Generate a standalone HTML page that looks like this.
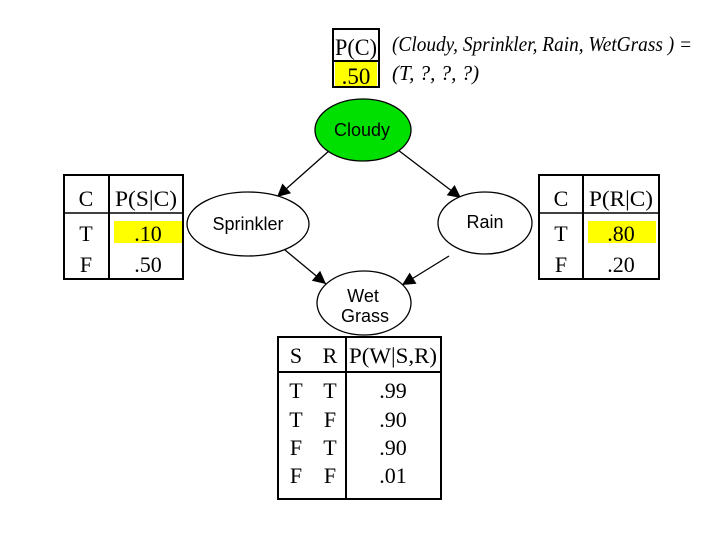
<!DOCTYPE html>
<html><head><style>body{margin:0;background:#fff}svg{display:block}</style></head><body>
<svg width="720" height="540" xmlns="http://www.w3.org/2000/svg" font-family="Liberation Serif, serif">
<defs>
<marker id="b" viewBox="0 0 10 10" markerWidth="18" markerHeight="13" refX="10" refY="5" orient="auto" markerUnits="userSpaceOnUse"><path d="M0,0 L10,5 L0,10 z" fill="#000"/></marker></defs>
<!-- P(C) -->
<rect x="335" y="62" width="42" height="24" fill="#ffff00"/>
<rect x="333" y="29" width="46" height="58" fill="none" stroke="#000" stroke-width="2"/>
<line x1="333" y1="61" x2="379" y2="61" stroke="#000" stroke-width="2"/>
<text x="356" y="55" font-size="23" text-anchor="middle" textLength="42" lengthAdjust="spacingAndGlyphs">P(C)</text>
<text x="356" y="84" font-size="23" text-anchor="middle">.50</text>
<text x="392" y="51" font-size="21" font-style="italic" textLength="300" lengthAdjust="spacingAndGlyphs">(Cloudy, Sprinkler, Rain, WetGrass ) =</text>
<text x="392" y="80" font-size="21" font-style="italic">(T, ?, ?, ?)</text>
<!-- arrows -->
<g stroke="#000" stroke-width="1.3">
<line x1="330" y1="150" x2="277" y2="197" marker-end="url(#b)"/>
<line x1="398" y1="150" x2="461" y2="198" marker-end="url(#b)"/>
<line x1="285" y1="250" x2="326" y2="284" marker-end="url(#b)"/>
<line x1="449" y1="256" x2="402" y2="285" marker-end="url(#b)"/>
</g>
<!-- nodes -->
<g font-family="Liberation Sans, sans-serif" font-size="18" text-anchor="middle">
<ellipse cx="363" cy="130" rx="48" ry="31" fill="#00e000" stroke="#000" stroke-width="1.3"/>
<text x="362" y="136">Cloudy</text>
<ellipse cx="248" cy="224" rx="61" ry="32" fill="#fff" stroke="#000" stroke-width="1.3"/>
<text x="248" y="230">Sprinkler</text>
<ellipse cx="485" cy="223" rx="47" ry="31" fill="#fff" stroke="#000" stroke-width="1.3"/>
<text x="485" y="228">Rain</text>
<ellipse cx="364" cy="303" rx="47" ry="32" fill="#fff" stroke="#000" stroke-width="1.3"/>
<text x="363" y="302">Wet</text>
<text x="365" y="322">Grass</text>
</g>
<!-- left table -->
<rect x="114" y="221" width="68" height="22" fill="#ffff00"/>
<rect x="64" y="175" width="119" height="104" fill="none" stroke="#000" stroke-width="2"/>
<line x1="109" y1="175" x2="109" y2="279" stroke="#000" stroke-width="2"/>
<line x1="64" y1="213" x2="183" y2="213" stroke="#000" stroke-width="1.5"/>
<g font-size="22" text-anchor="middle">
<text x="86" y="206">C</text><text x="146" y="206" textLength="62" lengthAdjust="spacingAndGlyphs">P(S|C)</text>
<text x="86" y="241">T</text><text x="148" y="241">.10</text>
<text x="86" y="272">F</text><text x="148" y="272">.50</text>
</g>
<!-- right table -->
<rect x="588" y="221" width="68" height="22" fill="#ffff00"/>
<rect x="539" y="175" width="120" height="104" fill="none" stroke="#000" stroke-width="2"/>
<line x1="583" y1="175" x2="583" y2="279" stroke="#000" stroke-width="2"/>
<line x1="539" y1="213" x2="659" y2="213" stroke="#000" stroke-width="1.5"/>
<g font-size="22" text-anchor="middle">
<text x="561" y="206">C</text><text x="621" y="206" textLength="64" lengthAdjust="spacingAndGlyphs">P(R|C)</text>
<text x="561" y="241">T</text><text x="621" y="241">.80</text>
<text x="561" y="272">F</text><text x="621" y="272">.20</text>
</g>
<!-- bottom table -->
<rect x="278" y="337" width="163" height="162" fill="none" stroke="#000" stroke-width="2"/>
<line x1="346" y1="337" x2="346" y2="499" stroke="#000" stroke-width="2"/>
<line x1="278" y1="372" x2="441" y2="372" stroke="#000" stroke-width="2"/>
<g font-size="22" text-anchor="middle">
<text x="296" y="363">S</text><text x="330" y="363">R</text><text x="393" y="363" textLength="88" lengthAdjust="spacingAndGlyphs">P(W|S,R)</text>
<text x="296" y="398">T</text><text x="330" y="398">T</text><text x="393" y="398">.99</text>
<text x="296" y="427">T</text><text x="330" y="427">F</text><text x="393" y="427">.90</text>
<text x="296" y="455">F</text><text x="330" y="455">T</text><text x="393" y="455">.90</text>
<text x="296" y="483">F</text><text x="330" y="483">F</text><text x="393" y="483">.01</text>
</g>
</svg>
</body></html>
